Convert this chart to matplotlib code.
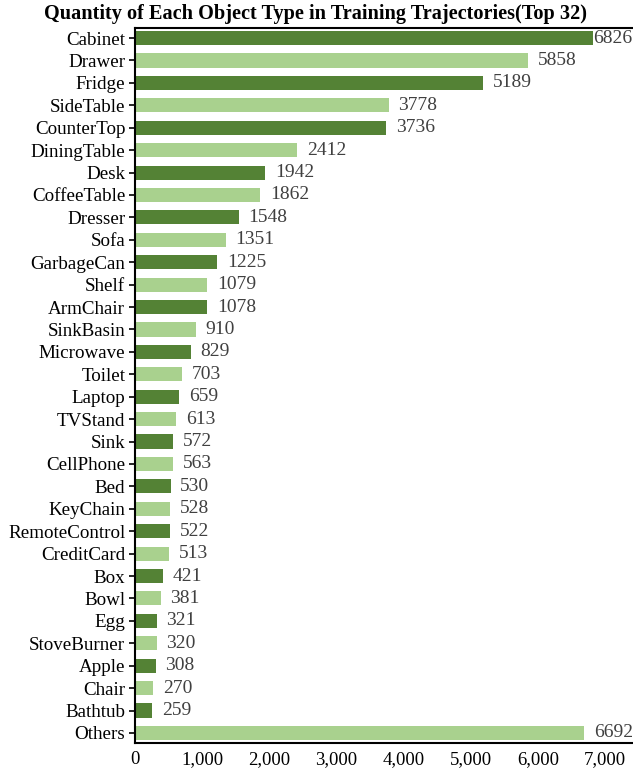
import matplotlib
matplotlib.use("Agg")
import matplotlib.pyplot as plt
from matplotlib.ticker import FuncFormatter

categories = ["Cabinet", "Drawer", "Fridge", "SideTable", "CounterTop", "DiningTable",
              "Desk", "CoffeeTable", "Dresser", "Sofa", "GarbageCan", "Shelf",
              "ArmChair", "SinkBasin", "Microwave", "Toilet", "Laptop", "TVStand",
              "Sink", "CellPhone", "Bed", "KeyChain", "RemoteControl", "CreditCard",
              "Box", "Bowl", "Egg", "StoveBurner", "Apple", "Chair", "Bathtub", "Others"]
counts = [6826, 5858, 5189, 3778, 3736, 2412, 1942, 1862, 1548, 1351, 1225, 1079,
          1078, 910, 829, 703, 659, 613, 572, 563, 530, 528, 522, 513,
          421, 381, 321, 320, 308, 270, 259, 6692]

dark = "#548235"
light = "#A9D18E"

plt.rcParams['font.family'] = ['Liberation Serif', 'DejaVu Serif']

fig = plt.figure(figsize=(6.33, 7.71), dpi=100)
ax = fig.add_axes([0.2133, 0.0363, 0.787, 0.9274])

ypos = list(range(len(categories)))
colors = [dark if i % 2 == 0 else light for i in ypos]
ax.barh(ypos, counts, height=0.63, color=colors)

# value labels, the top one sits right against its bar
for i, v in enumerate(counts):
    pad = 0 if i == 0 else 7
    ax.annotate(str(v), (v, i), xytext=(pad, 0), textcoords="offset points",
                ha="left", va="center", fontsize=14, color="#404040")

ax.set_yticks(ypos)
ax.set_yticklabels(categories, fontsize=13.7)
ax.set_ylim(len(categories) - 0.55, -0.45)
ax.set_xlim(0, 7420)
ax.set_xticks(range(0, 8000, 1000))
ax.xaxis.set_major_formatter(FuncFormatter(lambda x, p: f"{int(x):,}"))
ax.tick_params(axis="x", length=0, labelsize=13.5, pad=6)
ax.tick_params(axis="y", length=4, width=1.2, pad=3)

for s in ["top", "left", "bottom"]:
    ax.spines[s].set_linewidth(1.5)
ax.spines["right"].set_visible(False)

fig.text(0.499, 0.982, "Quantity of Each Object Type in Training Trajectories(Top 32)",
         ha="center", va="center", fontsize=14.6, fontweight="bold")

fig.savefig("out.png", dpi=100)
